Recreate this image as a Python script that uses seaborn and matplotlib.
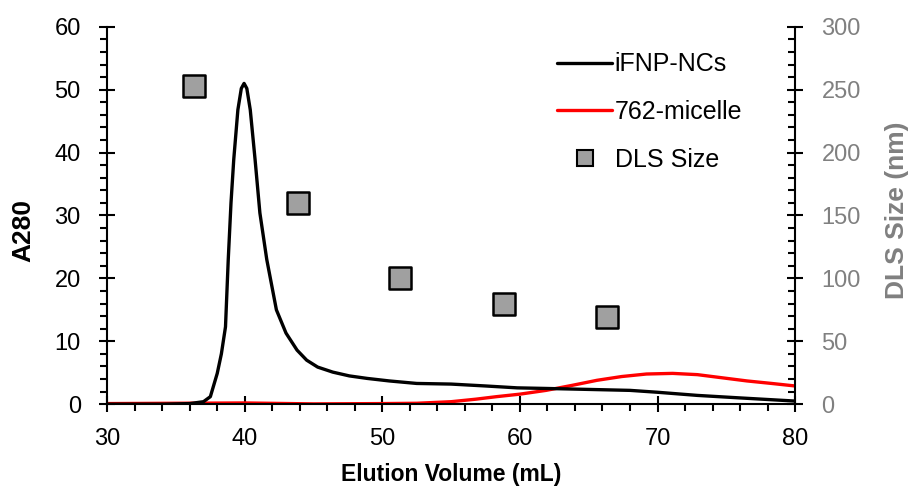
import matplotlib
matplotlib.use("Agg")
import matplotlib.pyplot as plt
import seaborn as sns
import pandas as pd
from matplotlib.ticker import MultipleLocator
from matplotlib.lines import Line2D

sns.set_theme(style="white")
plt.rcParams['font.family'] = ['Liberation Sans', 'DejaVu Sans']
plt.rcParams['text.color'] = 'black'
plt.rcParams['axes.labelcolor'] = 'black'

# iFNP-NCs A280 trace
ifnp_x = [30, 34, 36, 37, 37.5, 38.0, 38.3, 38.6, 38.8, 39.0, 39.2, 39.5, 39.75, 39.95,
          40.15, 40.4, 40.75, 41.1, 41.6, 42.3, 43.0, 43.8, 44.5, 45.3, 46.4, 47.6, 48.9,
          50.5, 52.5, 55, 57.5, 59.8, 62, 64, 66, 68, 70, 72.9, 76, 80]
ifnp_y = [0, 0, 0.1, 0.4, 1.2, 4.9, 8.0, 12.3, 23, 32, 38.9, 46.8, 50.2, 51.0,
          50.2, 46.8, 38.9, 30.4, 23, 15, 11.3, 8.6, 7.0, 5.9, 5.1, 4.5, 4.1,
          3.7, 3.3, 3.2, 2.9, 2.6, 2.5, 2.4, 2.3, 2.2, 1.9, 1.4, 1.0, 0.5]

# 762-micelle A280 trace
mic_x = [30, 40, 45, 50, 52.5, 55, 56.8, 58.3, 60, 61.9, 63.8, 65.6, 67.4, 69.2, 71.1,
         72.9, 74.7, 76.5, 78.3, 80]
mic_y = [0.1, 0.2, 0.05, 0.1, 0.15, 0.4, 0.8, 1.2, 1.6, 2.2, 3.0, 3.8, 4.4, 4.8, 4.9,
         4.7, 4.2, 3.7, 3.3, 2.9]

# DLS size (nm)
dls_x = [36.3, 43.9, 51.3, 58.85, 66.3]
dls_y = [253, 160, 100, 80, 69]

fig = plt.figure(figsize=(9.16, 4.87), dpi=100)
ax = fig.add_axes([0.117, 0.170, 0.751, 0.775])
ax2 = ax.twinx()

df1 = pd.DataFrame({"x": ifnp_x, "y": ifnp_y})
df2 = pd.DataFrame({"x": mic_x, "y": mic_y})
df3 = pd.DataFrame({"x": dls_x, "y": dls_y})

sns.lineplot(data=df2, x="x", y="y", ax=ax, color="#ff0000", lw=2.4, zorder=2)
sns.lineplot(data=df1, x="x", y="y", ax=ax, color="black", lw=2.4, zorder=3)
sns.scatterplot(data=df3, x="x", y="y", ax=ax2, marker="s", s=260,
                color="#a0a0a0", edgecolor="black", linewidth=1.8, zorder=4)

ax.set_xlim(30, 80)
ax.set_ylim(0, 60)
ax2.set_ylim(0, 300)

ax.xaxis.set_major_locator(MultipleLocator(10))
ax.xaxis.set_minor_locator(MultipleLocator(2))
ax.yaxis.set_major_locator(MultipleLocator(10))
ax.yaxis.set_minor_locator(MultipleLocator(2))
ax2.yaxis.set_major_locator(MultipleLocator(50))
ax2.yaxis.set_minor_locator(MultipleLocator(10))

for a in (ax, ax2):
    for s in a.spines.values():
        s.set_visible(False)
ax.spines['left'].set_visible(True)
ax.spines['bottom'].set_visible(True)
ax2.spines['right'].set_visible(True)
for s in (ax.spines['left'], ax.spines['bottom'], ax2.spines['right']):
    s.set_color('black')
    s.set_linewidth(1.5)

ax.tick_params(axis='both', which='major', direction='inout', length=12, width=1.5,
               colors='black', labelsize=17)
ax.tick_params(axis='y', which='major', pad=13)
ax.tick_params(axis='x', which='major', pad=11)
ax.tick_params(axis='both', which='minor', direction='out', length=5, width=1.5, colors='black')
ax.tick_params(axis='x', which='both', bottom=True)
ax.tick_params(axis='y', which='both', left=True)
ax2.tick_params(axis='y', which='major', direction='inout', length=12, width=1.5,
                color='black', labelcolor='#808080', labelsize=17, right=True, pad=13)
ax2.tick_params(axis='y', which='minor', direction='in', length=5, width=1.5,
                color='black', right=True)

ax.set_xlabel("Elution Volume (mL)", fontsize=16.5, fontweight='bold', color='black')
ax.xaxis.set_label_coords(0.5, -0.155)
ax.set_ylabel("A280", fontsize=19, fontweight='bold', color='black')
ax.yaxis.set_label_coords(-0.122, 0.46)
ax.yaxis.label.set_va('center')
ax2.set_ylabel("DLS Size (nm)", fontsize=19, fontweight='bold', color='#808080')
ax2.yaxis.set_label_coords(1.148, 0.515)
ax2.yaxis.label.set_va('center')

handles = [
    Line2D([0], [0], color='black', lw=2.4),
    Line2D([0], [0], color='#ff0000', lw=2.4),
    Line2D([0], [0], marker='s', color='none', markerfacecolor='#a0a0a0',
           markeredgecolor='black', markersize=12, markeredgewidth=1.5),
]
leg = ax.legend(handles, ["iFNP-NCs", "762-micelle", "DLS Size"], loc='upper left',
                bbox_to_anchor=(0.654, 0.932), frameon=False, fontsize=18,
                borderpad=0, borderaxespad=0,
                handlelength=2.2, handletextpad=0.1, labelspacing=0.95)
for t in leg.get_texts():
    t.set_color('black')
if ax2.get_legend():
    ax2.get_legend().remove()

fig.savefig("out.png", dpi=100)
